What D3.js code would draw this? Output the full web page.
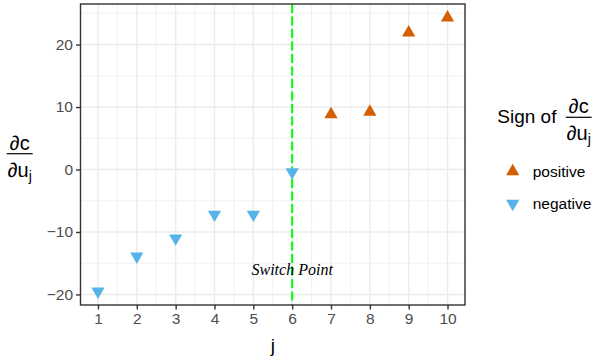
<!DOCTYPE html>
<html>
<head>
<meta charset="utf-8">
<script src="https://cdn.jsdelivr.net/npm/d3@7"></script>
<style>
  body { margin: 0; background: #fff; }
  svg { display: block; font-family: "Liberation Sans", Arial, sans-serif; }
</style>
</head>
<body>
<svg id="chart"></svg>
<script>
// values
const jValues = [1, 2, 3, 4, 5, 6, 7, 8, 9, 10];
const derivValues = [-19.5, -13.9, -11.0, -7.2, -7.2, -0.4, 8.8, 9.2, 21.9, 24.3];
const xTicks = [1, 2, 3, 4, 5, 6, 7, 8, 9, 10];
const yTicks = [-20, -10, 0, 10, 20];
const signLabels = ['positive', 'negative'];
const switchX = 6;
const switchLabelY = -16;
const switchLabel = 'Switch Point';

class SignPlot {

  constructor(_config) {
    this.config = {
      parentElement: _config.parentElement,
      containerWidth: _config.containerWidth || 598,
      containerHeight: _config.containerHeight || 362,
      margin: _config.margin || {top: 4, right: 133, bottom: 57, left: 80.5}
    };
    this.initVis();
  }

  initVis() {
    let vis = this;

    vis.width = vis.config.containerWidth - vis.config.margin.left - vis.config.margin.right;
    vis.height = vis.config.containerHeight - vis.config.margin.top - vis.config.margin.bottom;

    vis.svg = d3.select(vis.config.parentElement)
      .attr('width', vis.config.containerWidth)
      .attr('height', vis.config.containerHeight);

    vis.chart = vis.svg.append('g')
      .attr('transform', `translate(${vis.config.margin.left},${vis.config.margin.top})`);

    // ggplot style 5% expansion on a continuous axis
    const xExt = d3.extent(jValues), yExt = d3.extent(derivValues);
    const xPad = (xExt[1] - xExt[0]) * 0.05, yPad = (yExt[1] - yExt[0]) * 0.05;

    vis.xScale = d3.scaleLinear()
      .domain([xExt[0] - xPad, xExt[1] + xPad])
      .range([0, vis.width]);

    vis.yScale = d3.scaleLinear()
      .domain([yExt[0] - yPad, yExt[1] + yPad])
      .range([vis.height, 0]);

    vis.colour = d3.scaleOrdinal().domain(signLabels).range(['#D55E00', '#56B4E9']);

    vis.renderVis();
  }

  renderVis() {
    let vis = this;
    const grey = '#EBEBEB';

    // minor grid
    const xMinor = xTicks.slice(0, -1).map(d => d + 0.5);
    const yMinor = yTicks.map(d => d + 5).filter(d => d < vis.yScale.domain()[1]);
    vis.chart.append('g').selectAll('line')
      .data(xMinor).join('line')
      .attr('x1', d => vis.xScale(d)).attr('x2', d => vis.xScale(d))
      .attr('y1', 0).attr('y2', vis.height)
      .attr('stroke', grey).attr('stroke-width', 0.7);
    vis.chart.append('g').selectAll('line')
      .data(yMinor).join('line')
      .attr('y1', d => vis.yScale(d)).attr('y2', d => vis.yScale(d))
      .attr('x1', 0).attr('x2', vis.width)
      .attr('stroke', grey).attr('stroke-width', 0.7);

    // major grid
    vis.chart.append('g').selectAll('line')
      .data(xTicks).join('line')
      .attr('x1', d => vis.xScale(d)).attr('x2', d => vis.xScale(d))
      .attr('y1', 0).attr('y2', vis.height)
      .attr('stroke', grey).attr('stroke-width', 1.4);
    vis.chart.append('g').selectAll('line')
      .data(yTicks).join('line')
      .attr('y1', d => vis.yScale(d)).attr('y2', d => vis.yScale(d))
      .attr('x1', 0).attr('x2', vis.width)
      .attr('stroke', grey).attr('stroke-width', 1.4);

    // switch point line + label
    vis.chart.append('line')
      .attr('x1', vis.xScale(switchX)).attr('x2', vis.xScale(switchX))
      .attr('y1', 0).attr('y2', vis.height)
      .attr('stroke', '#00FF00').attr('stroke-width', 2)
      .attr('stroke-dasharray', '9,3.5');

    vis.chart.append('text')
      .attr('x', vis.xScale(switchX))
      .attr('y', vis.yScale(switchLabelY))
      .attr('dy', '0.35em')
      .attr('text-anchor', 'middle')
      .style('font-family', '"Liberation Serif", "Times New Roman", serif')
      .style('font-style', 'italic')
      .style('font-size', '16px')
      .attr('fill', '#000')
      .text(switchLabel);

    // points
    const tri = d3.symbol().type(d3.symbolTriangle).size(76);
    vis.chart.append('g').selectAll('path')
      .data(jValues.map((j, i) => ({j: j, v: derivValues[i], sign: derivValues[i] > 0 ? 'positive' : 'negative'})))
      .join('path')
      .attr('d', tri)
      .attr('transform', d => `translate(${vis.xScale(d.j)},${vis.yScale(d.v)})` + (d.sign === 'negative' ? ' rotate(180)' : ''))
      .attr('fill', d => vis.colour(d.sign));

    // axes
    const xAxis = d3.axisBottom(vis.xScale).tickValues(xTicks).tickSize(4.5).tickPadding(3);
    const yAxis = d3.axisLeft(vis.yScale).tickValues(yTicks).tickSize(4.5).tickPadding(3)
      .tickFormat(d => d < 0 ? '\u2212' + Math.abs(d) : d);

    const styleAxis = g => {
      g.select('.domain').remove();
      g.selectAll('.tick line').attr('stroke', '#333333').attr('stroke-width', 1.4);
      g.selectAll('.tick text').attr('fill', '#4D4D4D')
        .style('font-size', '15.5px').style('font-family', '"Liberation Sans", Arial, sans-serif');
    };

    vis.chart.append('g')
      .attr('transform', `translate(0,${vis.height})`)
      .call(xAxis).call(styleAxis);
    vis.chart.append('g')
      .call(yAxis).call(styleAxis);

    // panel border
    vis.chart.append('rect')
      .attr('width', vis.width).attr('height', vis.height)
      .attr('fill', 'none').attr('stroke', '#333333').attr('stroke-width', 1.4);

    // x title
    vis.svg.append('text')
      .attr('x', vis.config.margin.left + vis.width / 2)
      .attr('y', 351.5)
      .attr('text-anchor', 'middle')
      .style('font-size', '19px')
      .text('j');

    // y title (fraction)
    vis.drawFraction(vis.svg, 19.7, 153.7);

    // legend
    const legend = vis.svg.append('g');
    legend.append('text')
      .attr('x', 497.3).attr('y', 123)
      .style('font-size', '19px')
      .text('Sign of');
    vis.drawFraction(legend, 578.7, 117.3);

    const keys = legend.selectAll('g.key')
      .data(signLabels).join('g')
      .attr('class', 'key')
      .attr('transform', (d, i) => `translate(512.7,${171.5 + i * 32})`);
    keys.append('path')
      .attr('d', tri)
      .attr('transform', d => d === 'negative' ? 'rotate(180)' : null)
      .attr('fill', d => vis.colour(d));
    keys.append('text')
      .attr('x', 20).attr('dy', '0.35em')
      .style('font-size', '15.5px')
      .text(d => d);
  }

  drawFraction(parent, cx, barY) {
    const g = parent.append('g').attr('transform', `translate(${cx},${barY})`);
    g.append('line')
      .attr('x1', -13).attr('x2', 13)
      .attr('stroke', '#000').attr('stroke-width', 1.2);
    g.append('text')
      .attr('y', -4).attr('text-anchor', 'middle')
      .style('font-size', '20px')
      .text('\u2202c');
    const bottom = g.append('text')
      .attr('y', 23).attr('text-anchor', 'middle')
      .style('font-size', '20px');
    bottom.append('tspan').text('\u2202u');
    bottom.append('tspan').attr('dy', 4).style('font-size', '14px').text('j');
  }
}

new SignPlot({parentElement: '#chart'});
</script>
</body>
</html>
